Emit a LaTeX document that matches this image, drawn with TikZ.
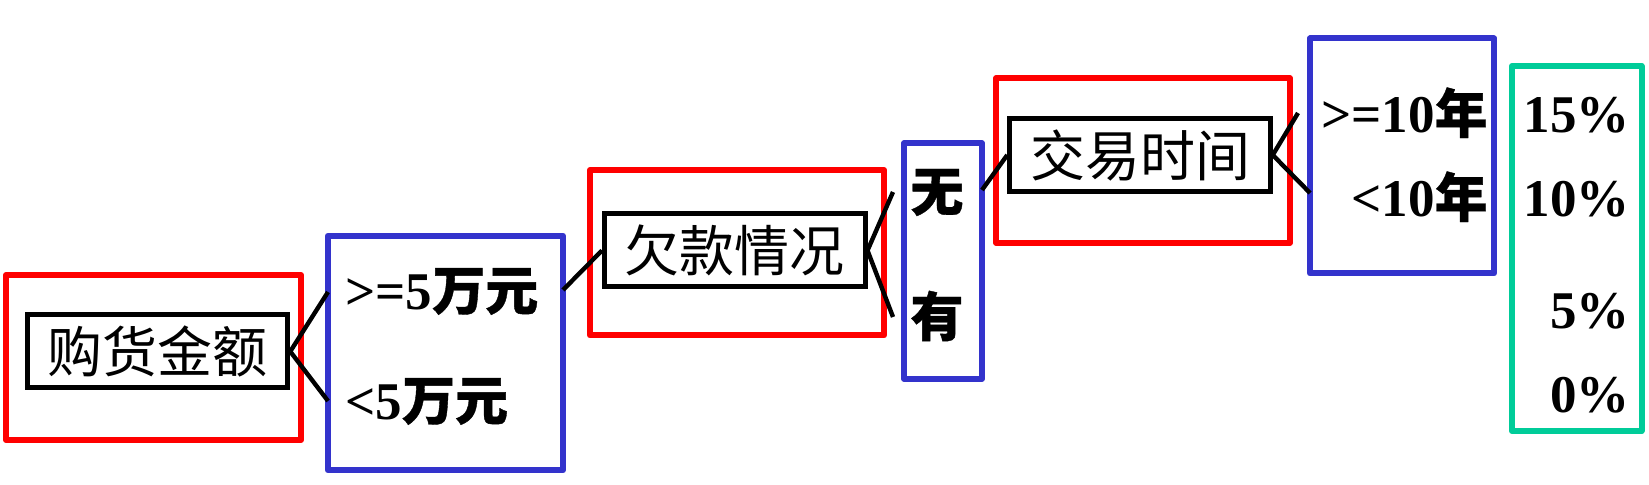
\documentclass[tikz,border=0pt]{standalone}
\usepackage{fontspec}
\setmainfont{Liberation Serif}
\newfontfamily\cjk{Noto Sans CJK SC}
\newfontfamily\cjkb{Noto Sans CJK SC}[FakeBold=0.7]
\definecolor{frred}{RGB}{255,0,0}
\definecolor{frblue}{RGB}{51,51,204}
\definecolor{frgreen}{RGB}{0,204,153}
\newcommand{\zh}[1]{{\cjkb #1}}
\tikzset{
  frame/.style={draw, line width=3pt, inner sep=0pt, line join=round},
  keybox/.style={draw, line width=2.5pt, inner sep=0pt, minimum width=130.25pt, minimum height=36.5pt, font=\cjk\fontsize{27.5}{30}\selectfont},
  lab/.style={inner sep=0pt, font=\bfseries\fontsize{26.5}{30}\selectfont},
  branch/.style={line width=2.2pt}
}
\begin{document}
\begin{tikzpicture}[x=0.5pt, y=-0.5pt]
  \useasboundingbox (0,0) rectangle (1649,485);
    % frames
    \node[frame, draw=frred, minimum width=147.5pt, minimum height=82.5pt] (crit1) at (153.5,357.5) {};
    \node[frame, draw=frred, minimum width=147pt, minimum height=82.75pt] (crit2) at (737,252.75) {};
    \node[frame, draw=frred, minimum width=146.75pt, minimum height=82.5pt] (crit3) at (1143,160.5) {};
    \node[frame, draw=frblue, minimum width=117.5pt, minimum height=117.25pt] (opt1) at (445.5,353) {};
    \node[frame, draw=frblue, minimum width=38.75pt, minimum height=118pt] (opt2) at (943,261) {};
    \node[frame, draw=frblue, minimum width=92pt, minimum height=117.5pt] (opt3) at (1402,156) {};
    \node[frame, draw=frgreen, minimum width=64.75pt, minimum height=182.5pt] (rate) at (1576.75,248.5) {};
    % nodes
    \node[keybox] (amount) at (157.5,351.5) {购货金额};
    \node[keybox] (debt) at (734.75,250.5) {欠款情况};
    \node[keybox] (years) at (1140,155) {交易时间};
    \node[lab, anchor=base west] (big) at (345,310) {>=5\zh{万元}};
    \node[lab, anchor=base west] (small) at (345,420) {<5\zh{万元}};
    \node[lab] (nodebt) at (937,192.5) {\zh{无}};
    \node[lab] (hasdebt) at (937,316) {\zh{有}};
    \node[lab, anchor=base east] (long) at (1488,133) {>=10\zh{年}};
    \node[lab, anchor=base east] (short) at (1488,217) {<10\zh{年}};
    \node[lab, anchor=base east] (r15) at (1630,133) {15\%};
    \node[lab, anchor=base east] (r10) at (1630,217) {10\%};
    \node[lab, anchor=base east] (r5) at (1630,329) {5\%};
    \node[lab, anchor=base east] (r0) at (1630,413) {0\%};
    % edges
    \coordinate (a1) at (328,292);
    \coordinate (a2) at (328,401);
    \coordinate (a3) at (563,290);
    \coordinate (d1) at (893,192);
    \coordinate (d2) at (893,317);
    \coordinate (d3) at (982,190);
    \coordinate (y1) at (1298,113);
    \coordinate (y2) at (1310,193);
    \draw[branch] (amount.east) -- (a1);
    \draw[branch] (amount.east) -- (a2);
    \draw[branch] (a3) -- (debt.west);
    \draw[branch] (debt.east) -- (d1);
    \draw[branch] (debt.east) -- (d2);
    \draw[branch] (d3) -- (years.west);
    \draw[branch] (years.east) -- (y1);
    \draw[branch] (years.east) -- (y2);
\end{tikzpicture}
\end{document}
